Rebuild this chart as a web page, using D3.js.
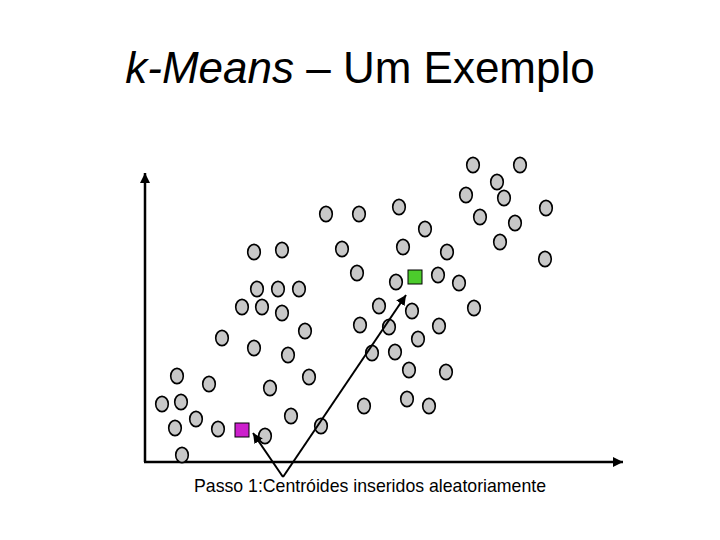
<!DOCTYPE html>
<html>
<head>
<meta charset="utf-8">
<script src="https://cdn.jsdelivr.net/npm/d3@7"></script>
<style>
  html, body { margin: 0; padding: 0; background: #fff; }
  svg { display: block; }
</style>
</head>
<body>
<svg id="chart" width="720" height="540"></svg>
<script>
// ---- data (units: arbitrary feature space, origin at axes corner) ----
const pointX = [328,375,352,321,359,401,181,214,254,335,370,280,355,109,137,197,258,302,400,212,251,293,314,
                112,133,154,97,117,137,234,267,329,215,244,294,160,77,273,109,143,227,250,32,64,164,264,301,125,
                17,36,219,262,284,51,146,30,73,120,176,37];
const pointY = [297,297,280,267,264,254,248,248,255,245,239,233,220,210,212,213,215,210,203,189,180,187,179,
                173,173,173,155,155,149,156,151,154,137,135,136,131,124,123,114,107,109,110,86,78,85,92,90,74,
                58,60,56,63,56,43,46,34,33,26,36,7];
const centroidLabel = ["c1", "c2"];
const centroidX = [97, 270];
const centroidY = [32, 185];
const centroidColor = ["#cc1fcc", "#4ccc2c"];
const titleItalic = "k-Means";
const titleRest = " – Um Exemplo";
const caption = "Passo 1:Centróides inseridos aleatoriamente";

// ---- chart ----
const svg = d3.select("#chart");
const x = d3.scaleLinear().domain([0, 478]).range([145, 623]);
const y = d3.scaleLinear().domain([0, 289]).range([462, 173]);

const defs = svg.append("defs");
defs.append("marker").attr("id", "axhead").attr("viewBox", "0 0 10 10")
  .attr("refX", 10).attr("refY", 5).attr("markerWidth", 4).attr("markerHeight", 4)
  .attr("markerUnits", "strokeWidth").attr("orient", "auto")
  .append("path").attr("d", "M0,0 L10,5 L0,10 Z").attr("fill", "#000");
defs.append("marker").attr("id", "arhead").attr("viewBox", "0 0 10 10")
  .attr("refX", 10).attr("refY", 5).attr("markerWidth", 5).attr("markerHeight", 5)
  .attr("markerUnits", "strokeWidth").attr("orient", "auto")
  .append("path").attr("d", "M0,0 L10,5 L0,10 Z").attr("fill", "#000");

// title
const title = svg.append("text").attr("x", 360).attr("y", 83)
  .attr("text-anchor", "middle")
  .style("font-family", "Arial, 'Liberation Sans', sans-serif")
  .style("font-size", "44px").attr("fill", "#000");
title.append("tspan").style("font-style", "italic").text(titleItalic);
title.append("tspan").text(titleRest);

// axes
const x0 = x.domain()[0], x1 = x.domain()[1];
const y0 = y.domain()[0], y1 = y.domain()[1];
svg.append("line").attr("x1", x(x0)).attr("y1", y(y0)).attr("x2", x(x0)).attr("y2", y(y1))
  .attr("stroke", "#000").attr("stroke-width", 2.5).attr("marker-end", "url(#axhead)");
svg.append("line").attr("x1", x(x0) - 1).attr("y1", y(y0)).attr("x2", x(x1)).attr("y2", y(y0))
  .attr("stroke", "#000").attr("stroke-width", 2.5).attr("marker-end", "url(#axhead)");

// points
const pts = pointX.map((v, i) => ({ x: v, y: pointY[i] }));
svg.append("g").selectAll("ellipse").data(pts).join("ellipse")
  .attr("cx", d => x(d.x)).attr("cy", d => y(d.y))
  .attr("rx", 6.3).attr("ry", 7.6)
  .attr("fill", "#c8c8c8").attr("stroke", "#000").attr("stroke-width", 1.6);

// centroids
const cents = centroidX.map((v, i) => ({ id: centroidLabel[i], x: v, y: centroidY[i], c: centroidColor[i] }));
svg.append("g").selectAll("rect").data(cents).join("rect")
  .attr("x", d => x(d.x) - 7).attr("y", d => y(d.y) - 7)
  .attr("width", 14).attr("height", 14)
  .attr("fill", d => d.c).attr("stroke", "#000").attr("stroke-width", 1);

// annotation arrows from caption to centroids
const ax0 = 283, ay0 = 477;
svg.append("g").selectAll("line").data(cents).join("line")
  .attr("x1", ax0).attr("y1", ay0)
  .attr("x2", (d, i) => x(d.x) + (i === 0 ? 11 : -9))
  .attr("y2", (d, i) => y(d.y) + (i === 0 ? 3 : 18))
  .attr("stroke", "#000").attr("stroke-width", 2).attr("marker-end", "url(#arhead)");

// caption
svg.append("text").attr("x", 194).attr("y", 492)
  .style("font-family", "Arial, 'Liberation Sans', sans-serif")
  .style("font-size", "17.7px").attr("fill", "#000").text(caption);
</script>
</body>
</html>
